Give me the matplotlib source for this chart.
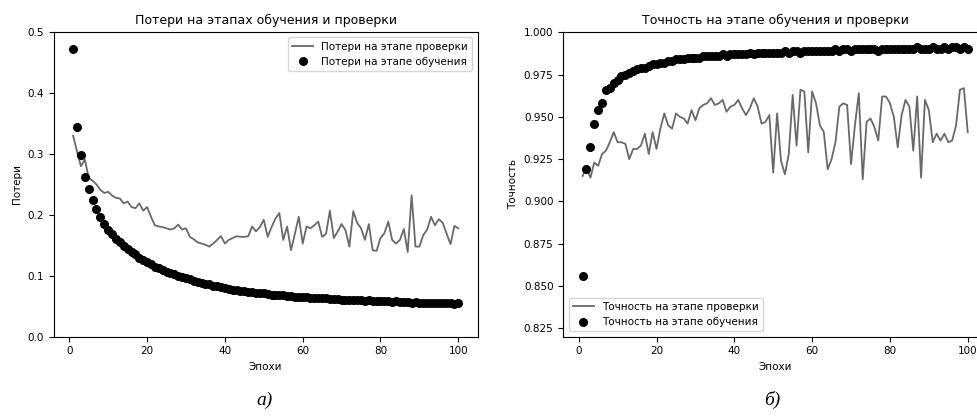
import numpy as np
import matplotlib
matplotlib.use("Agg")
import matplotlib.pyplot as plt

# Values (epochs 1..100)
epochs = np.arange(1, 101)

train_loss = [0.472, 0.344, 0.298, 0.262, 0.242, 0.224, 0.209, 0.197, 0.185, 0.176,
              0.169, 0.161, 0.155, 0.149, 0.144, 0.139, 0.135, 0.130, 0.126, 0.122,
              0.119, 0.115, 0.112, 0.110, 0.107, 0.105, 0.103, 0.100, 0.098, 0.096,
              0.094, 0.092, 0.090, 0.089, 0.087, 0.086, 0.084, 0.083, 0.081, 0.080,
              0.079, 0.077, 0.076, 0.075, 0.075, 0.074, 0.073, 0.072, 0.071, 0.071,
              0.070, 0.069, 0.069, 0.068, 0.068, 0.067, 0.067, 0.066, 0.066, 0.065,
              0.065, 0.064, 0.064, 0.064, 0.063, 0.063, 0.062, 0.062, 0.062, 0.061,
              0.061, 0.061, 0.060, 0.060, 0.060, 0.059, 0.060, 0.059, 0.059, 0.058,
              0.058, 0.058, 0.057, 0.058, 0.057, 0.057, 0.057, 0.056, 0.057, 0.056,
              0.056, 0.056, 0.055, 0.056, 0.055, 0.055, 0.055, 0.055, 0.054, 0.055]

val_loss = [0.330, 0.304, 0.280, 0.291, 0.261, 0.256, 0.250, 0.241, 0.236, 0.238,
            0.232, 0.228, 0.227, 0.219, 0.222, 0.213, 0.211, 0.219, 0.207, 0.213,
            0.197, 0.183, 0.181, 0.180, 0.178, 0.176, 0.178, 0.184, 0.176, 0.178,
            0.164, 0.160, 0.155, 0.153, 0.151, 0.148, 0.153, 0.159, 0.165, 0.153,
            0.159, 0.162, 0.165, 0.164, 0.164, 0.165, 0.181, 0.173, 0.180, 0.192,
            0.164, 0.180, 0.194, 0.203, 0.159, 0.181, 0.142, 0.169, 0.197, 0.153,
            0.181, 0.178, 0.183, 0.189, 0.164, 0.169, 0.207, 0.162, 0.173, 0.185,
            0.175, 0.148, 0.206, 0.187, 0.178, 0.159, 0.185, 0.142, 0.141, 0.162,
            0.170, 0.189, 0.159, 0.153, 0.159, 0.177, 0.139, 0.232, 0.148, 0.148,
            0.167, 0.176, 0.197, 0.183, 0.193, 0.187, 0.169, 0.152, 0.182, 0.178]

train_acc = [0.856, 0.919, 0.932, 0.946, 0.954, 0.958, 0.966, 0.967, 0.970, 0.972,
             0.974, 0.975, 0.976, 0.977, 0.978, 0.979, 0.979, 0.980, 0.981, 0.981,
             0.982, 0.982, 0.983, 0.983, 0.984, 0.984, 0.984, 0.985, 0.985, 0.985,
             0.985, 0.986, 0.986, 0.986, 0.986, 0.986, 0.987, 0.986, 0.987, 0.987,
             0.987, 0.987, 0.987, 0.988, 0.987, 0.988, 0.988, 0.988, 0.988, 0.988,
             0.988, 0.988, 0.989, 0.988, 0.989, 0.989, 0.988, 0.989, 0.989, 0.989,
             0.989, 0.989, 0.989, 0.989, 0.989, 0.990, 0.989, 0.990, 0.990, 0.989,
             0.990, 0.990, 0.990, 0.990, 0.990, 0.990, 0.989, 0.990, 0.990, 0.990,
             0.990, 0.990, 0.990, 0.990, 0.990, 0.990, 0.991, 0.990, 0.990, 0.990,
             0.991, 0.990, 0.990, 0.991, 0.990, 0.991, 0.991, 0.990, 0.991, 0.990]

val_acc = [0.915, 0.920, 0.914, 0.923, 0.921, 0.928, 0.930, 0.935, 0.941, 0.935,
           0.935, 0.934, 0.925, 0.931, 0.931, 0.933, 0.940, 0.928, 0.941, 0.931,
           0.943, 0.952, 0.945, 0.943, 0.952, 0.950, 0.949, 0.946, 0.954, 0.948,
           0.955, 0.957, 0.958, 0.961, 0.957, 0.958, 0.960, 0.953, 0.956, 0.957,
           0.960, 0.955, 0.951, 0.955, 0.961, 0.956, 0.946, 0.947, 0.951, 0.917,
           0.952, 0.924, 0.916, 0.928, 0.963, 0.933, 0.966, 0.965, 0.929, 0.965,
           0.958, 0.945, 0.941, 0.919, 0.925, 0.935, 0.956, 0.958, 0.957, 0.922,
           0.945, 0.964, 0.913, 0.947, 0.949, 0.944, 0.936, 0.962, 0.962, 0.958,
           0.950, 0.932, 0.951, 0.960, 0.956, 0.930, 0.962, 0.914, 0.960, 0.954,
           0.935, 0.940, 0.936, 0.940, 0.935, 0.936, 0.945, 0.966, 0.967, 0.941]

fs = 7.5
fig = plt.figure(figsize=(9.78, 4.17), dpi=100)

# left panel: loss
ax1 = fig.add_axes([0.0551, 0.1926, 0.4332, 0.730])
ax1.plot(epochs, val_loss, color='dimgray', lw=1.3, label='Потери на этапе проверки')
ax1.plot(epochs, train_loss, 'o', color='black', ms=5.5, label='Потери на этапе обучения')
ax1.set_ylim(0, 0.5)
ax1.set_title('Потери на этапах обучения и проверки', fontsize=9)
ax1.set_xlabel('Эпохи', fontsize=fs)
ax1.set_ylabel('Потери', fontsize=fs)
ax1.tick_params(labelsize=fs)
ax1.legend(loc='upper right', fontsize=fs)

# right panel: accuracy (its right edge is cut off in the reference)
ax2 = fig.add_axes([0.576, 0.1926, 0.4332, 0.730])
ax2.plot(epochs, val_acc, color='dimgray', lw=1.3, label='Точность на этапе проверки')
ax2.plot(epochs, train_acc, 'o', color='black', ms=5.5, label='Точность на этапе обучения')
ax2.set_ylim(0.82, 1.0)
ax2.set_yticks([0.825, 0.85, 0.875, 0.9, 0.925, 0.95, 0.975, 1.0])
ax2.set_title('Точность на этапе обучения и проверки', fontsize=9)
ax2.set_xlabel('Эпохи', fontsize=fs)
ax2.set_ylabel('Точность', fontsize=fs)
ax2.tick_params(labelsize=fs)
ax2.legend(loc='lower left', fontsize=fs)

fig.text(0.271, 0.041, 'а)', fontsize=14, style='italic', family='Liberation Serif',
         ha='center', va='center')
fig.text(0.790, 0.041, 'б)', fontsize=14, style='italic', family='Liberation Serif',
         ha='center', va='center')

fig.savefig('out.png', dpi=100)
